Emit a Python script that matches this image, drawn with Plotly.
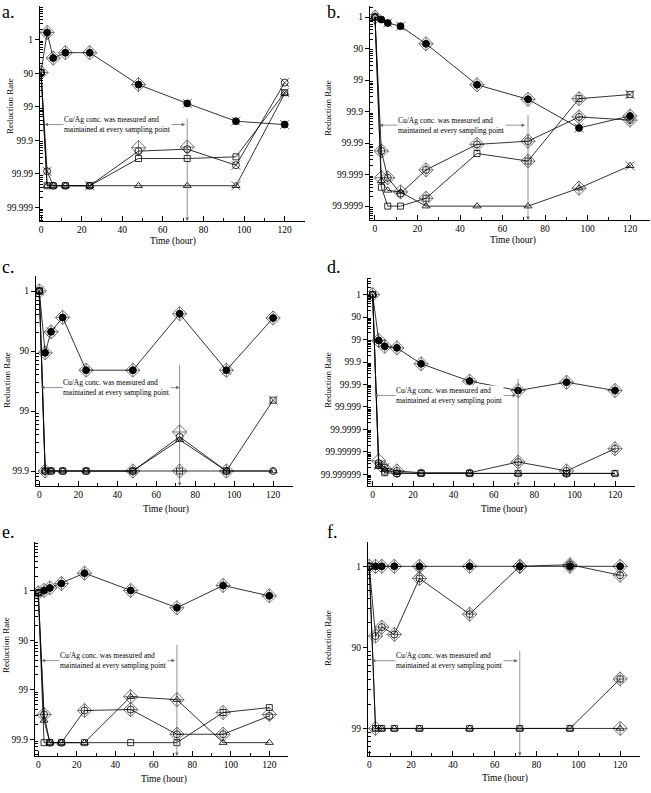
import math
import plotly.graph_objects as go

# ---------------- data ----------------
time = [0, 3, 6, 12, 24, 48, 72, 96, 120]
x_ticks = [0, 20, 40, 60, 80, 100, 120]
x_minor = [10, 30, 50, 70, 90, 110, 130]
y_labels = ["1", "90", "99", "99.9", "99.99", "99.999", "99.9999", "99.99999", "99.999999"]
note_text = "Cu/Ag conc. was measured and<br>maintained at every sampling point"

# log reduction values (0 -> "1", 1 -> "90", 2 -> "99", ...)
a_fill = [0.98, -0.21, 0.55, 0.39, 0.39, 1.34, 1.90, 2.43, 2.53]
a_circ = [0.98, 3.92, 4.35, 4.35, 4.35, 3.32, 3.26, 3.74, 1.28]
a_sq = [0.98, 4.35, 4.35, 4.35, 4.35, 3.54, 3.54, 3.49, 1.58]
a_tri = [0.98, 4.35, 4.35, 4.35, 4.35, 4.35, 4.35, 4.35, 1.60]
a_dia_x = [0, 3, 6, 12, 24, 48, 48, 72]
a_dia_y = [0.98, -0.21, 0.55, 0.39, 0.39, 1.34, 3.22, 3.2]
a_x_x = [3, 72, 96, 120, 96, 96, 120, 120, 24]
a_x_y = [3.92, 1.90, 2.43, 2.53, 3.74, 4.35, 1.28, 1.58, 4.35]

b_fill = [0.0, 0.08, 0.19, 0.29, 0.85, 2.15, 2.61, 3.52, 3.14]
b_circ = [0.0, 4.25, 5.1, 5.6, 4.85, 4.04, 3.94, 3.17, 3.27]
b_sq = [0.0, 5.4, 6.0, 6.0, 5.75, 4.33, 4.57, 2.59, 2.46]
b_tri = [0.0, 5.2, 5.5, 5.55, 6.0, 6.0, 6.0, 5.43, 4.72]
b_dia_x = [0, 3, 3, 6, 12, 24, 24, 24, 48, 48, 72, 72, 72, 96, 96, 96, 120, 120]
b_dia_y = [0.0, 4.25, 5.1, 5.1, 5.55, 0.85, 4.85, 5.75, 2.15, 4.04, 2.61, 3.94, 4.57, 2.59, 3.17, 5.43, 3.14, 3.27]
b_x_x = [12, 96, 120, 120, 6]
b_x_y = [0.29, 3.52, 2.46, 4.72, 0.19]

c_fill = [0.0, 1.03, 0.68, 0.44, 1.32, 1.32, 0.38, 1.32, 0.45]
c_circ = [0.0, 3.0, 3.0, 3.0, 3.0, 3.0, 2.43, 3.0, 3.0]
c_sq = [0.0, 3.0, 3.0, 3.0, 3.0, 3.0, 3.0, 3.0, 1.82]
c_tri = [0.0, 3.0, 3.0, 3.0, 3.0, 3.0, 2.48, 3.0, 3.0]
c_dia_x = [0, 3, 6, 12, 24, 48, 72, 72, 72, 96, 120, 3, 48, 96]
c_dia_y = [0.0, 1.03, 0.68, 0.44, 1.32, 1.32, 0.38, 2.35, 3.0, 1.32, 0.45, 3.0, 3.0, 3.0]
c_x_x = [0, 6, 96, 120]
c_x_y = [0.0, 0.68, 1.32, 1.82]

d_fill = [0.0, 2.04, 2.30, 2.37, 3.08, 3.85, 4.27, 3.90, 4.27]
d_circ = [0.0, 7.5, 7.7, 7.85, 7.93, 7.93, 7.45, 7.85, 6.86]
d_sq = [0.0, 7.6, 7.93, 7.96, 7.96, 7.96, 7.96, 7.96, 7.96]
d_tri = [0.0, 7.65, 7.8, 7.93, 7.96, 7.96, 7.96, 7.96, 7.96]
d_dia_x = [0, 3, 6, 12, 24, 48, 72, 96, 120, 3, 6, 12, 72, 96, 120]
d_dia_y = [0.0, 2.04, 2.3, 2.37, 3.08, 3.85, 4.27, 3.9, 4.27, 7.4, 7.75, 7.85, 7.45, 7.85, 6.86]
d_x_x = [3, 6]
d_x_y = [7.6, 7.7]

e_fill = [0.04, -0.01, -0.06, -0.15, -0.36, -0.01, 0.34, -0.11, 0.10]
e_circ = [0.04, 2.5, 3.07, 3.07, 2.42, 2.40, 2.90, 2.90, 2.53]
e_sq = [0.04, 3.07, 3.07, 3.07, 3.07, 3.07, 3.07, 2.46, 2.36]
e_tri = [0.04, 2.62, 3.07, 3.07, 3.07, 2.14, 2.20, 3.07, 3.07]
e_dia_x = [0, 3, 6, 12, 24, 48, 72, 96, 120, 3, 24, 48, 48, 72, 72, 96, 96, 120]
e_dia_y = [0.04, -0.01, -0.06, -0.15, -0.36, -0.01, 0.34, -0.11, 0.10, 2.5, 2.42, 2.14, 2.40, 2.2, 2.9, 2.46, 2.9, 2.5]
e_x_x = []
e_x_y = []

f_fill = [0.0, 0.0, 0.0, 0.0, 0.0, 0.0, 0.0, 0.0, 0.0]
f_circ = [0.0, 0.86, 0.75, 0.84, 0.15, 0.59, 0.0, -0.02, 0.11]
f_sq = [0.0, 2.0, 2.0, 2.0, 2.0, 2.0, 2.0, 2.0, 1.39]
f_tri = [0.0, 2.0, 2.0, 2.0, 2.0, 2.0, 2.0, 2.0, 2.0]
f_dia_x = [0, 3, 6, 12, 24, 48, 72, 96, 120, 3, 6, 12, 24, 48, 72, 96, 120, 120, 3, 120]
f_dia_y = [0, 0, 0, 0, 0, 0, 0, 0, 0, 0.86, 0.75, 0.84, 0.15, 0.59, 0, -0.02, 0.11, 1.39, 2.0, 2.0]
f_x_x = [24]
f_x_y = [0.07]

# ---------------- layout config (pixels) ----------------
W, H = 651, 793
FONT = "Liberation Serif"

panels = [
    dict(letter="a.", fill=a_fill, circ=a_circ, sq=a_sq, tri=a_tri, dx=a_dia_x, dy=a_dia_y, xx=a_x_x, xy=a_x_y,
         nlab=6, px=(40, 305), py=(6, 221), xr=(-0.5, 130), yr=(-1.0, 5.4),
         arrowL=2.53, arr=(1, 71), vtop=2.3, tx=11, let=(0, 12), yt=(10, 106), xt=(173, 242)),
    dict(letter="b.", fill=b_fill, circ=b_circ, sq=b_sq, tri=b_tri, dx=b_dia_x, dy=b_dia_y, xx=b_x_x, xy=b_x_y,
         nlab=7, px=(370, 650), py=(6, 220), xr=(-2.35, 129.4), yr=(-0.35, 6.44),
         arrowL=3.43, arr=(1.4, 70.6), vtop=3.06, tx=10.4, let=(325, 12), yt=(328, 108), xt=(513, 240)),
    dict(letter="c.", fill=c_fill, circ=c_circ, sq=c_sq, tri=c_tri, dx=c_dia_x, dy=c_dia_y, xx=c_x_x, xy=c_x_y,
         nlab=4, px=(36, 293), py=(276, 486), xr=(-1.7, 130.2), yr=(-0.25, 3.25),
         arrowL=1.61, arr=(0, 72), vtop=1.2, tx=11.5, let=(0, 267), yt=(7, 380), xt=(166, 509)),
    dict(letter="d.", fill=d_fill, circ=d_circ, sq=d_sq, tri=d_tri, dx=d_dia_x, dy=d_dia_y, xx=d_x_x, xy=d_x_y,
         nlab=9, px=(368, 635), py=(278, 486), xr=(-2.3, 129.9), yr=(-0.74, 8.52),
         arrowL=4.49, arr=(0, 71), vtop=3.7, tx=11, let=(325, 267), yt=(328, 380), xt=(504, 509)),
    dict(letter="e.", fill=e_fill, circ=e_circ, sq=e_sq, tri=e_tri, dx=e_dia_x, dy=e_dia_y, xx=e_x_x, xy=e_x_y,
         nlab=4, px=(35, 288), py=(542, 756), xr=(-1.7, 129.7), yr=(-0.99, 3.34),
         arrowL=1.41, arr=(1, 71), vtop=1.06, tx=11, let=(0, 532), yt=(6, 645), xt=(164, 779)),
    dict(letter="f.", fill=f_fill, circ=f_circ, sq=f_sq, tri=f_tri, dx=f_dia_x, dy=f_dia_y, xx=f_x_x, xy=f_x_y,
         nlab=3, px=(368, 640), py=(542, 756), xr=(-0.6, 129.5), yr=(-0.3, 2.34),
         arrowL=1.165, arr=(0.5, 71), vtop=1.02, tx=12.5, let=(325, 532), yt=(328, 638), xt=(505, 778)),
]

fig = go.Figure()
annotations = []
layout = dict(width=W, height=H, margin=dict(l=0, r=0, t=0, b=0),
              paper_bgcolor="white", plot_bgcolor="white", showlegend=False,
              font=dict(family=FONT, color="black"))

for i, p in enumerate(panels):
    sfx = "" if i == 0 else str(i + 1)
    xa, ya = "x" + sfx, "y" + sfx
    ylo, yhi = p["yr"]
    # minor log ticks inside each decade
    minor = []
    for n in range(-2, 10):
        for k in range(2, 10):
            v = n + 1 - math.log10(k)
            if ylo < v < yhi:
                minor.append(v)
    layout["xaxis" + sfx] = dict(
        domain=[p["px"][0] / W, p["px"][1] / W], anchor=ya, range=list(p["xr"]),
        showline=True, linecolor="black", linewidth=1, showgrid=False, zeroline=False,
        ticks="inside", ticklen=5, tickwidth=1, tickcolor="black",
        tickmode="array", tickvals=x_ticks, tickfont=dict(family=FONT, size=9.5, color="black"),
        minor=dict(ticks="inside", ticklen=3, tickwidth=1, tickcolor="black",
                   tickmode="array", tickvals=x_minor, showgrid=False))
    layout["yaxis" + sfx] = dict(
        domain=[1 - p["py"][1] / H, 1 - p["py"][0] / H], anchor=xa, range=[yhi, ylo],
        showline=True, linecolor="black", linewidth=1, showgrid=False, zeroline=False,
        ticks="outside", ticklen=4, tickwidth=1, tickcolor="black",
        tickmode="array", tickvals=list(range(p["nlab"])), ticktext=y_labels[:p["nlab"]],
        tickfont=dict(family=FONT, size=9.5, color="black"),
        minor=dict(ticks="inside", ticklen=3, tickwidth=0.8, tickcolor="black",
                   tickmode="array", tickvals=minor, showgrid=False))

    # error-like diamond glyphs
    fig.add_trace(go.Scatter(x=p["dx"], y=p["dy"], mode="markers", xaxis=xa, yaxis=ya,
                             marker=dict(symbol="diamond-cross-open", size=11, color="#555",
                                         line=dict(color="#555", width=0.8)), hoverinfo="skip"))
    if p["xx"]:
        fig.add_trace(go.Scatter(x=p["xx"], y=p["xy"], mode="markers", xaxis=xa, yaxis=ya,
                                 marker=dict(symbol="x-thin-open", size=9, color="#444",
                                             line=dict(color="#444", width=0.8)), hoverinfo="skip"))
    fill_symbols = ["circle-open"] + ["circle"] * (len(time) - 1)
    series = [
        (p["tri"], dict(symbol="triangle-up-open", size=7, color="black", line=dict(color="black", width=0.8))),
        (p["sq"], dict(symbol="square-open", size=6, color="black", line=dict(color="black", width=0.8))),
        (p["circ"], dict(symbol="circle-open", size=7, color="black", line=dict(color="black", width=0.8))),
        (p["fill"], dict(symbol=fill_symbols, size=7, color="black", line=dict(color="black", width=0.8))),
    ]
    for vals, mk in series:
        fig.add_trace(go.Scatter(x=time, y=vals, mode="lines+markers", xaxis=xa, yaxis=ya,
                                 line=dict(color="black", width=0.8), marker=mk))

    # double-headed horizontal arrow
    annotations.append(dict(x=p["arr"][1], y=p["arrowL"], ax=p["arr"][0], ay=p["arrowL"],
                            xref=xa, yref=ya, axref=xa, ayref=ya, text="", showarrow=True,
                            arrowhead=2, startarrowhead=2, arrowside="end+start",
                            arrowsize=1, startarrowsize=1, arrowwidth=0.7, arrowcolor="#666"))
    # vertical line with arrow at 72 h
    annotations.append(dict(x=72, y=yhi, ax=72, ay=p["vtop"],
                            xref=xa, yref=ya, axref=xa, ayref=ya, text="", showarrow=True,
                            arrowhead=2, arrowsize=1, arrowwidth=0.7, arrowcolor="#666"))
    # note text
    annotations.append(dict(x=p["tx"], y=p["arrowL"], xref=xa, yref=ya, text=note_text,
                            showarrow=False, xanchor="left", yanchor="middle", align="left",
                            bgcolor="white", borderpad=0,
                            font=dict(family=FONT, size=7.5, color="black")))
    # panel letter
    annotations.append(dict(x=p["let"][0] / W, y=1 - p["let"][1] / H, xref="paper", yref="paper",
                            text=p["letter"], showarrow=False, xanchor="left", yanchor="middle",
                            font=dict(family=FONT, size=18, color="black")))
    # axis titles
    annotations.append(dict(x=p["yt"][0] / W, y=1 - p["yt"][1] / H, xref="paper", yref="paper",
                            text="Reduction Rate", showarrow=False, textangle=-90,
                            xanchor="center", yanchor="middle",
                            font=dict(family=FONT, size=9, color="black")))
    annotations.append(dict(x=p["xt"][0] / W, y=1 - p["xt"][1] / H, xref="paper", yref="paper",
                            text="Time (hour)", showarrow=False, xanchor="center", yanchor="middle",
                            font=dict(family=FONT, size=9.5, color="black")))

layout["annotations"] = annotations
fig.update_layout(**layout)
fig.write_html("out.html", config={"displayModeBar": False},
               post_script="document.body.style.margin='0';document.body.style.overflow='hidden';")
